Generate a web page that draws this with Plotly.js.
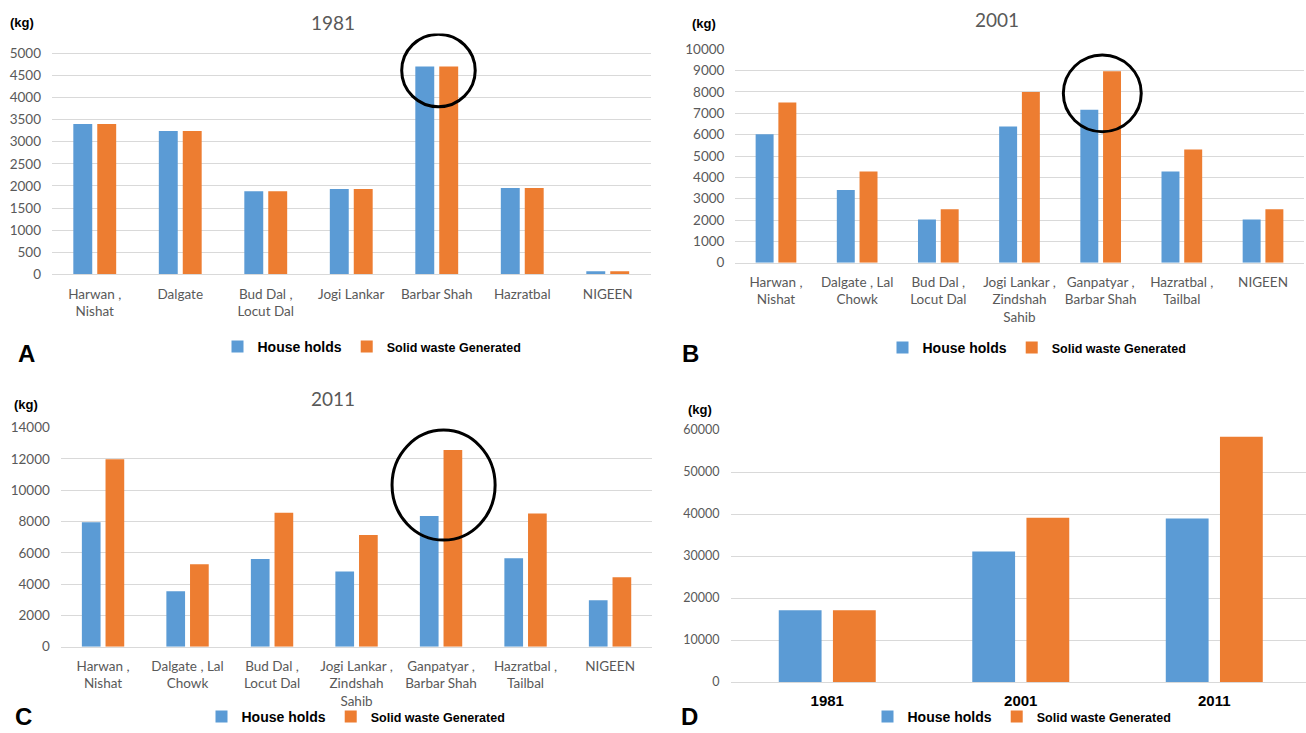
<!DOCTYPE html>
<html><head><meta charset="utf-8">
<script src="https://cdn.plot.ly/plotly-3.0.1.min.js"></script>
<style>html,body{margin:0;padding:0;background:#fff;width:1306px;height:733px;overflow:hidden}#chart{width:1306px;height:733px;overflow:hidden}</style>
</head><body><div id="chart"></div>
<script>
// ---- data ----
const catsA = ['Harwan ,<br>Nishat','Dalgate','Bud Dal ,<br>Locut Dal','Jogi Lankar','Barbar Shah','Hazratbal','NIGEEN'];
const catsB = ['Harwan ,<br>Nishat','Dalgate , Lal<br>Chowk','Bud Dal ,<br>Locut Dal','Jogi Lankar ,<br>Zindshah<br>Sahib','Ganpatyar ,<br>Barbar Shah','Hazratbal ,<br>Tailbal','NIGEEN'];
const catsC = ['Harwan ,<br>Nishat','Dalgate , Lal<br>Chowk','Bud Dal ,<br>Locut Dal','Jogi Lankar ,<br>Zindshah<br>Sahib','Ganpatyar ,<br>Barbar Shah','Hazratbal ,<br>Tailbal','NIGEEN'];
const catsD = ['1981','2001','2011'];

const households1981 = [3400, 3240, 1880, 1930, 4700, 1950, 70];
const waste1981      = [3400, 3240, 1880, 1930, 4700, 1950, 70];
const households2001 = [6020, 3410, 2030, 6380, 7170, 4270, 2030];
const waste2001      = [7510, 4270, 2510, 8000, 8970, 5300, 2510];
const households2011 = [7950, 3540, 5600, 4800, 8350, 5650, 2970];
const waste2011      = [11980, 5270, 8560, 7140, 12570, 8510, 4440];
const householdsTotal = [17100, 31100, 38950];
const wasteTotal      = [17100, 39100, 58400];

const seriesNames = ['House holds', 'Solid waste Generated'];
const panelTitles = ['1981', '2001', '2011'];
const panelLetters = ['A', 'B', 'C', 'D'];

// ---- style ----
const W = 1306, H = 733;
const BLUE = '#5B9BD5', ORANGE = '#ED7D31';
const GRID = '#D9D9D9', TXT = '#595959';
const tickFont = {family: 'Lato, "Open Sans", sans-serif', size: 13.5, color: TXT};
const px = x => x / W;
const py = y => 1 - y / H;

function bars(cats, hh, sw, n) {
  const xa = 'x' + (n === 1 ? '' : n), ya = 'y' + (n === 1 ? '' : n);
  const lg = 'legend' + (n === 1 ? '' : n);
  return [
    {type: 'bar', x: cats, y: hh, name: seriesNames[0], marker: {color: BLUE}, xaxis: xa, yaxis: ya, legend: lg, hoverinfo: 'y'},
    {type: 'bar', x: cats, y: sw, name: '<span style="font-size:12.5px">' + seriesNames[1] + '</span>', marker: {color: ORANGE}, xaxis: xa, yaxis: ya, legend: lg, hoverinfo: 'y'}
  ];
}

const data = [].concat(
  bars(catsA, households1981, waste1981, 1),
  bars(catsB, households2001, waste2001, 2),
  bars(catsC, households2011, waste2011, 3),
  bars(catsD, householdsTotal, wasteTotal, 4)
);

function xax(l, r, anchor, range, extra) {
  return Object.assign({
    domain: [px(l), px(r)], anchor: anchor, type: 'category', range: range,
    showline: true, linecolor: GRID, linewidth: 1, ticks: '', showgrid: false,
    tickfont: tickFont, ticklabelstandoff: 7, fixedrange: true, automargin: false
  }, extra || {});
}
function yax(top, bottom, anchor, range, dtick, extra) {
  return Object.assign({
    domain: [py(bottom), py(top)], anchor: anchor, range: range, tick0: 0, dtick: dtick,
    tickformat: 'd',
    showgrid: true, gridcolor: GRID, gridwidth: 1, zeroline: false, showline: false,
    ticks: '', tickfont: tickFont, ticklabelstandoff: 10, fixedrange: true, automargin: false
  }, extra || {});
}

const legendBase = {orientation: 'h', xanchor: 'center', yanchor: 'middle',
  font: {family: '"Liberation Sans", Arial, sans-serif', size: 14, color: '#000', weight: 'bold'},
  bgcolor: 'rgba(0,0,0,0)', itemclick: false, itemdoubleclick: false, traceorder: 'normal'};

function ann(text, x, y, size, color, bold, fam) {
  return {text: text, x: px(x), y: py(y), xref: 'paper', yref: 'paper', showarrow: false,
    xanchor: 'center', yanchor: 'middle',
    font: {family: fam || '"Liberation Sans", Arial, sans-serif', size: size, color: color, weight: bold ? 'bold' : 'normal'}};
}

const layout = {
  width: W, height: H, margin: {l: 0, r: 0, t: 0, b: 0},
  paper_bgcolor: '#fff', plot_bgcolor: '#fff',
  barmode: 'group', bargap: 0.44, bargroupgap: 0.21,
  showlegend: true,
  xaxis:  xax(52, 650.5, 'y', [-0.5, 6.5]),
  yaxis:  yax(33.4, 274.3, 'x', [0, 5450], 500),
  xaxis2: xax(735.4, 1303.6, 'y2', [-0.5, 6.5]),
  yaxis2: yax(49.3, 262.7, 'x2', [0, 10000], 1000),
  xaxis3: xax(60.8, 652.3, 'y3', [-0.5, 6.5]),
  yaxis3: yax(427.7, 646.7, 'x3', [0, 14000], 2000),
  xaxis4: xax(730.5, 1306, 'y4', [-0.5, 2.474], {tickfont: {family: '"Liberation Sans", Arial, sans-serif', size: 15, color: '#000', weight: 'bold'}, ticklabelstandoff: 5}),
  yaxis4: yax(430, 682, 'x4', [0, 60000], 10000, {tickfont: {family: 'Lato, "Open Sans", sans-serif', size: 12.5, color: TXT}}),
  legend:  Object.assign({}, legendBase, {x: px(372), y: py(347)}),
  legend2: Object.assign({}, legendBase, {x: px(1037), y: py(348)}),
  legend3: Object.assign({}, legendBase, {x: px(356), y: 0, yanchor: 'bottom'}),
  legend4: Object.assign({}, legendBase, {x: px(1022), y: 0, yanchor: 'bottom'}),
  annotations: [
    ann(panelTitles[0], 333, 22, 19, TXT, false, 'Lato, "Open Sans", sans-serif'),
    ann(panelTitles[1], 997, 19, 19, TXT, false, 'Lato, "Open Sans", sans-serif'),
    ann(panelTitles[2], 333, 398, 19, TXT, false, 'Lato, "Open Sans", sans-serif'),
    ann('(kg)', 22, 23, 13, '#000', true),
    ann('(kg)', 704, 24, 13, '#000', true),
    ann('(kg)', 26, 404, 13, '#000', true),
    ann('(kg)', 700, 409, 13, '#000', true),
    ann(panelLetters[0], 26, 353, 24, '#000', true),
    ann(panelLetters[1], 690, 353, 24, '#000', true),
    ann(panelLetters[2], 23, 716, 24, '#000', true),
    ann(panelLetters[3], 689, 716, 24, '#000', true)
  ],
  shapes: [
    {type: 'circle', xref: 'x', yref: 'y', x0: 4 - 0.41, x1: 4 + 0.45, y0: 3790, y1: 5430, line: {color: '#000', width: 3}},
    {type: 'circle', xref: 'x2', yref: 'y2', x0: 4 - 0.46, x1: 4 + 0.5, y0: 6140, y1: 9730, line: {color: '#000', width: 3}},
    {type: 'circle', xref: 'x3', yref: 'y3', x0: 4 - 0.58, x1: 4 + 0.64, y0: 6820, y1: 13850, line: {color: '#000', width: 3}}
  ]
};

Plotly.newPlot('chart', data, layout, {displayModeBar: false, staticPlot: true});
</script>
</body></html>
